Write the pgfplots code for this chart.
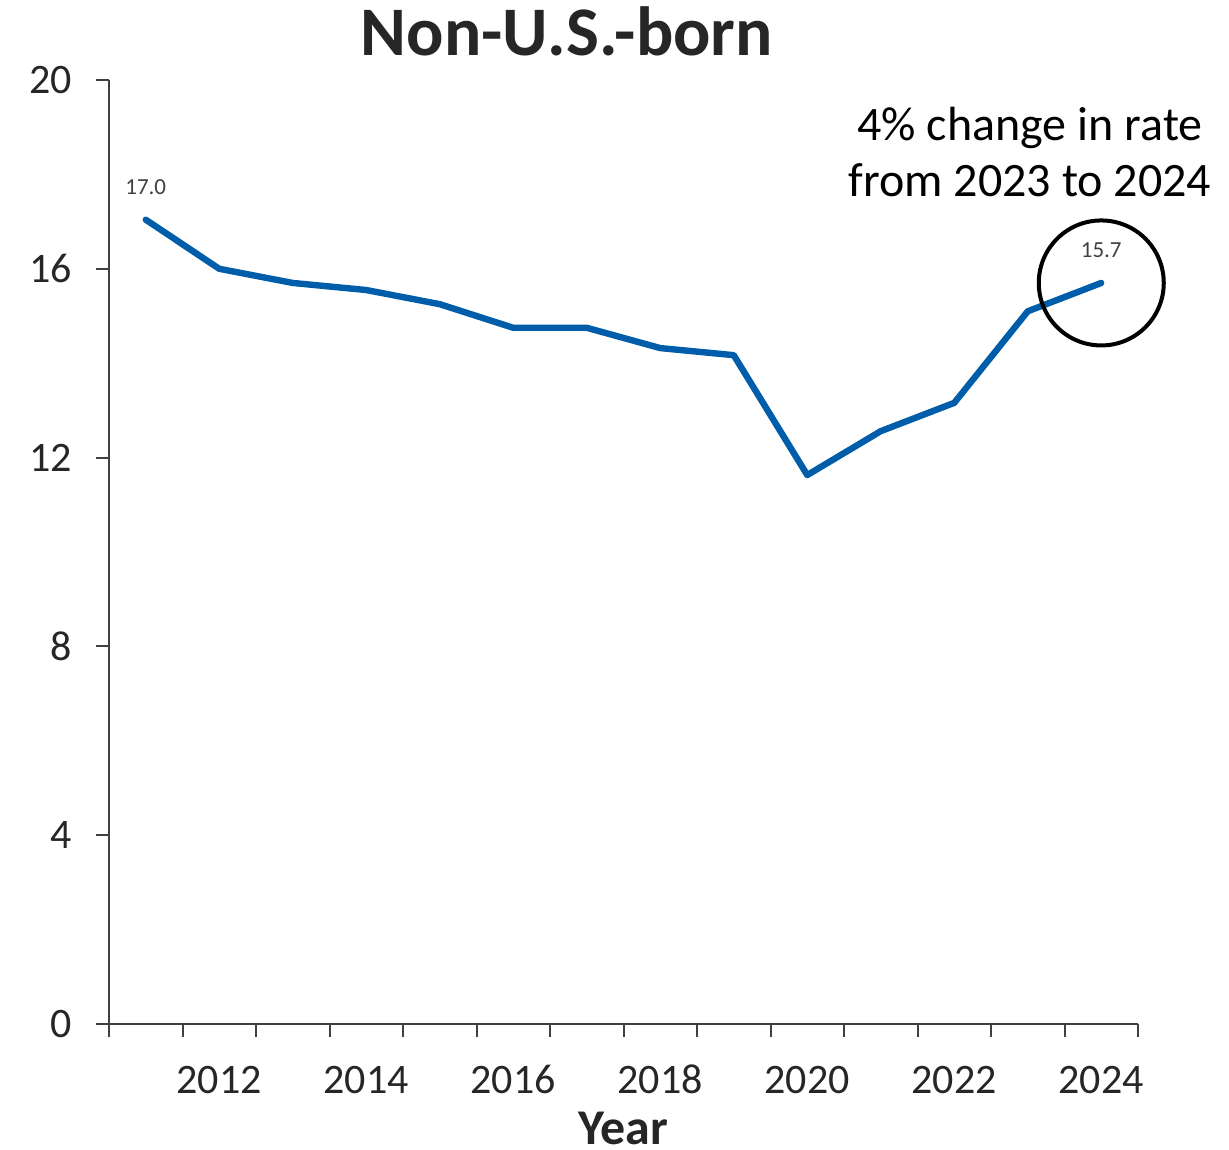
\documentclass[border=0pt]{standalone}
\usepackage{fontspec}
\setmainfont{Carlito}
\usepackage{pgfplots}
\usepackage{pgfplotstable}
\pgfplotsset{compat=1.18}
\definecolor{lineblue}{HTML}{005DAA}
\definecolor{axisgray}{HTML}{404040}
\definecolor{txtgray}{HTML}{262626}

% category index 0..13 = 2011..2024
\pgfplotstableread{
idx year rate
0  2011 17.04
1  2012 16.0
2  2013 15.7
3  2014 15.55
4  2015 15.25
5  2016 14.75
6  2017 14.75
7  2018 14.32
8  2019 14.17
9  2020 11.63
10 2021 12.56
11 2022 13.16
12 2023 15.1
13 2024 15.7
}\ratetable

\pgfplotstableread{
idx rate
0  17.04
13 15.7
}\endlabels

\begin{document}
\begin{tikzpicture}
\begin{axis}[
  scale only axis,
  width=514.5pt, height=472pt,
  xmin=-0.5, xmax=13.5,
  ymin=0, ymax=20,
  axis lines*=left,
  axis line style={draw=axisgray, line width=1pt},
  tick style={draw=axisgray, line width=1pt},
  tick align=outside,
  major tick length=6.5pt,
  ytick={0,4,...,20},
  xtick={-0.5,0.5,...,13.5},
  xticklabels={},
  extra x ticks={1,3,...,13},
  extra x tick labels={2012,2014,2016,2018,2020,2022,2024},
  extra x tick style={major tick length=0pt},
  /pgf/number format/assume math mode=true,
  ticklabel style={font=\fontsize{21}{25}\selectfont, color=txtgray},
  yticklabel style={xshift=-8.5pt},
  xticklabel style={anchor=base, yshift=-34.5pt},
  title={Non-U.S.-born},
  % the default title style adds yshift=6pt; cancel it
  title style={font=\fontsize{34.8}{40}\selectfont\bfseries, color=txtgray,
    at={(axis description cs:0.445,1.026)}, anchor=base, inner sep=0pt, yshift=-6pt},
  xlabel={Year},
  xlabel style={font=\fontsize{25}{30}\selectfont\bfseries, color=txtgray,
    at={(axis description cs:0.5,-0.128)}, anchor=base, inner sep=0pt},
  clip=false,
]
\addplot[lineblue, line width=3.2pt, line join=round, line cap=round]
  table[x=idx, y=rate] {\ratetable};
% value labels on first and last year
\addplot[draw=none, nodes near coords, point meta=y,
  nodes near coords style={font=\fontsize{11.5}{14}\selectfont, color=axisgray,
    anchor=base, yshift=12.5pt, inner sep=0pt,
    /pgf/number format/fixed, /pgf/number format/precision=1,
    /pgf/number format/fixed zerofill}]
  table[x=idx, y=rate] {\endlabels};
\draw[black, line width=2pt] (axis cs:13,15.7) circle[radius=31.25pt];
\node[font=\fontsize{24}{29}\selectfont, anchor=base, inner sep=0pt]
  at (axis description cs:0.895,0.936) {4\% change in rate};
\node[font=\fontsize{24}{29}\selectfont, anchor=base, inner sep=0pt]
  at (axis description cs:0.895,0.877) {from 2023 to 2024};
\end{axis}
\path ([xshift=-54.5pt,yshift=-62.5pt]current axis.south west)
  rectangle ([xshift=45.5pt,yshift=40pt]current axis.north east);
\end{tikzpicture}
\end{document}
